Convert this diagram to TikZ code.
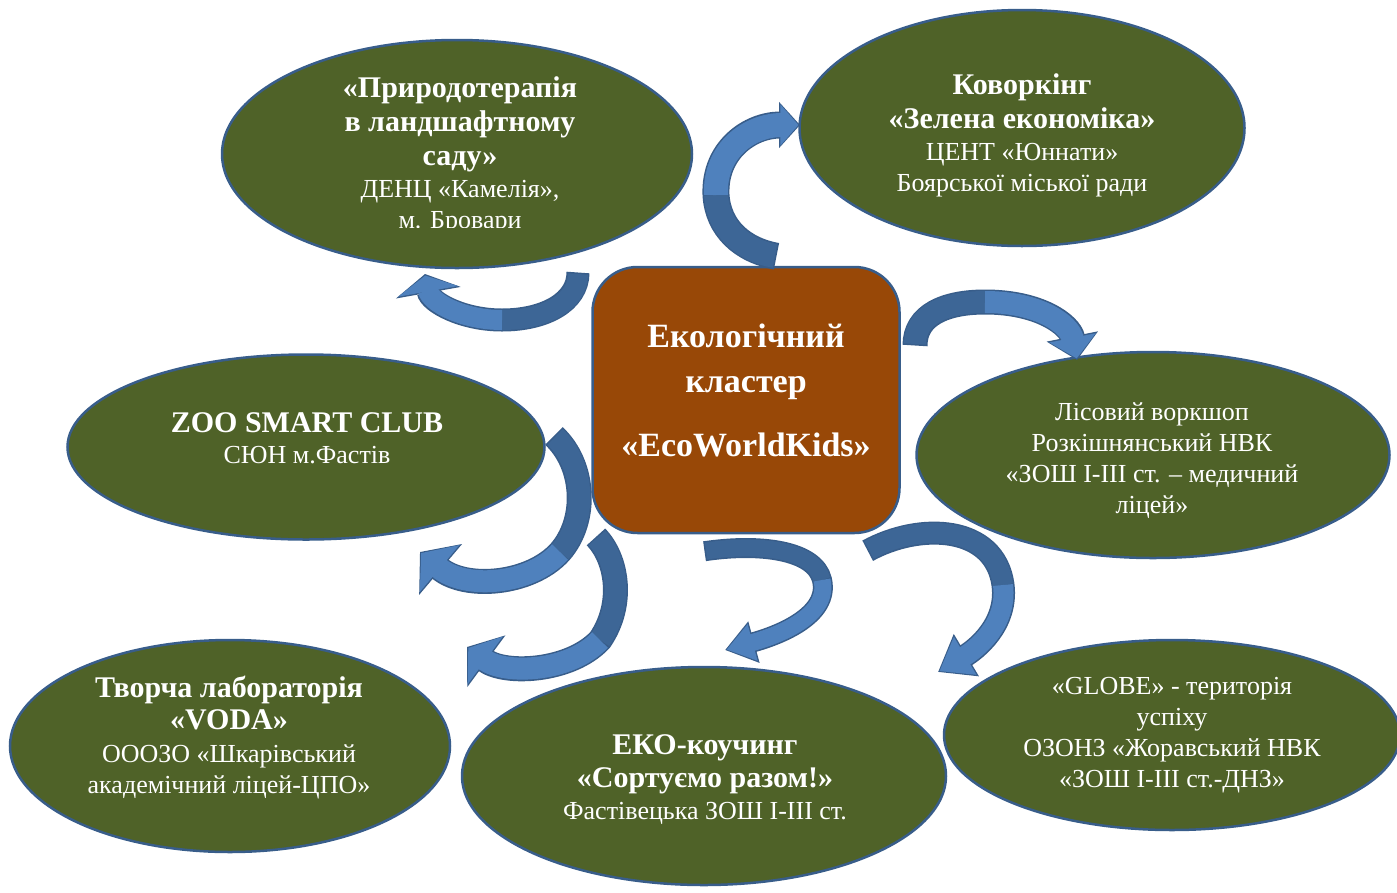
\documentclass[tikz,border=0pt]{standalone}
\usepackage{fontspec}
\setmainfont{Liberation Serif}
\usetikzlibrary{shapes.geometric,arrows.meta}

\definecolor{ecogreen}{HTML}{4F6228}
\definecolor{ecoline}{HTML}{385D8A}
\definecolor{hubbrown}{HTML}{984807}
\definecolor{arrlight}{HTML}{4F81BD}
\definecolor{arrdark}{HTML}{3D6696}
\definecolor{arrline}{HTML}{385D8A}

\newcommand{\regtext}{\fontsize{26}{31}\selectfont}
\newcommand{\hd}[1]{{\fontsize{30}{34}\selectfont\bfseries #1}}

% curved block arrow: band width, head length, head width, first half, middle, second half
\newcommand{\blockarrow}[6]{%
  \pgfmathsetlengthmacro\outW{#1+3pt}%
  \pgfmathsetlengthmacro\outL{#2+3pt}%
  \pgfmathsetlengthmacro\outH{#3+5pt}%
  \draw [arrline, line width=\outW, shorten <=-1.5pt, -{Triangle[length=\outL, width=\outH]}] #4 #5 #6;
  \draw [arrdark, line width=#1] #4 #5;
  \draw [arrlight, line width=#1, shorten >=1.6pt, -{Triangle[length=#2, width=#3]}] #5 #6;
}

\tikzset{
  partner/.style={ellipse, draw=ecoline, line width=2.5pt, fill=ecogreen, inner sep=0pt},
  hub/.style={rectangle, rounded corners=45pt, draw=ecoline, line width=2.5pt, fill=hubbrown},
  inscr/.style={text=white, align=center, inner sep=0pt, font=\regtext},
}

\begin{document}
\begin{tikzpicture}[x=1pt, y=-1pt]
    \useasboundingbox (0,0) rectangle (1397,892);

    %%  Cluster with its partners
    % Partner ellipses
    \node [partner, minimum width=470pt, minimum height=228pt] (garden) at (457,154) {};
    \node [partner, minimum width=445pt, minimum height=236pt] (cowork) at (1022,128) {};
    \node [partner, minimum width=477pt, minimum height=185pt] (zoo) at (306,447) {};
    \node [partner, minimum width=473pt, minimum height=206pt] (forest) at (1153,455) {};
    \node [partner, minimum width=440pt, minimum height=212pt] (voda) at (230,746) {};
    \node [partner, minimum width=484pt, minimum height=218pt] (sort) at (704,776) {};
    \node [partner, minimum width=456pt, minimum height=190pt] (globe) at (1172,735) {};

    % Central box
    \node [hub, minimum width=307pt, minimum height=266pt] (hub) at (746,400) {};
    \node [inscr, font=\fontsize{34}{45}\selectfont\bfseries] (hubtext) at (746,390)
        {Екологічний\\ кластер\\[19pt] «EcoWorldKids»};

    % Partner texts
    \begin{scope}
        \clip (222,40) rectangle (692,227);
        \node [inscr] (gardentext) at (460,155)
            {\hd{«Природотерапія}\\[3pt] \hd{в ландшафтному}\\[3pt] \hd{саду»}\\[1pt] ДЕНЦ «Камелія»,\\ м. Бровари};
    \end{scope}
    \node [inscr] (coworktext) at (1022,135)
        {\hd{Коворкінг}\\[3pt] \hd{«Зелена економіка»}\\[1pt] ЦЕНТ «Юннати»\\ Боярської міської ради};
    \node [inscr] (zootext) at (307,438)
        {\hd{ZOO SMART CLUB}\\ СЮН м.Фастів};
    \node [inscr] (foresttext) at (1152,461)
        {Лісовий воркшоп\\ Розкішнянський НВК\\ «ЗОШ І-ІІІ ст. – медичний\\ ліцей»};
    \node [inscr] (vodatext) at (229,738)
        {\hd{Творча лабораторія}\\[1pt] \hd{«VODA»}\\[2pt] ОООЗО «Шкарівський\\ академічний ліцей-ЦПО»};
    \node [inscr] (sorttext) at (705,780)
        {\hd{ЕКО-коучинг}\\[2pt] \hd{«Сортуємо разом!»}\\[1pt] Фастівецька ЗОШ І-ІІІ ст.};
    \node [inscr] (globetext) at (1172,735)
        {«GLOBE» - територія\\ успіху\\ ОЗОНЗ «Жоравський НВК\\ «ЗОШ І-ІІІ ст.-ДНЗ»};

    % Curved arrows from the hub
    % to garden
    \blockarrow{20pt}{16pt}{60pt}{(578,274) .. controls (578,302) and (545,320) ..}{(502,320)}{.. controls (462,320) and (430,302) .. (425,274)}
    % to coworking
    \blockarrow{24pt}{18pt}{40pt}{(775,256) .. controls (742,250) and (718,228) ..}{(716,195)}{.. controls (714,150) and (750,125) .. (800,125)}
    % to forest workshop
    \blockarrow{22pt}{21pt}{46pt}{(915,344) .. controls (915,315) and (945,302) ..}{(985,302)}{.. controls (1040,302) and (1070,325) .. (1077,360)}
    % to zoo club
    \blockarrow{22pt}{24pt}{60pt}{(555,437) .. controls (585,465) and (588,520) ..}{(560,552)}{.. controls (530,585) and (465,590) .. (420,552)}
    % to voda lab
    \blockarrow{22pt}{21pt}{58pt}{(597,538) .. controls (618,560) and (624,605) ..}{(600,640)}{.. controls (570,672) and (505,675) .. (467,647)}
    % to eco coaching
    \blockarrow{17pt}{27pt}{36pt}{(706,551) .. controls (760,543) and (815,550) ..}{(822,580)}{.. controls (830,615) and (780,635) .. (725,650)}
    % to globe
    \blockarrow{20pt}{30pt}{42pt}{(869,550) .. controls (920,522) and (995,525) ..}{(1003,585)}{.. controls (1008,625) and (975,650) .. (938,672)}

\end{tikzpicture}
\end{document}
